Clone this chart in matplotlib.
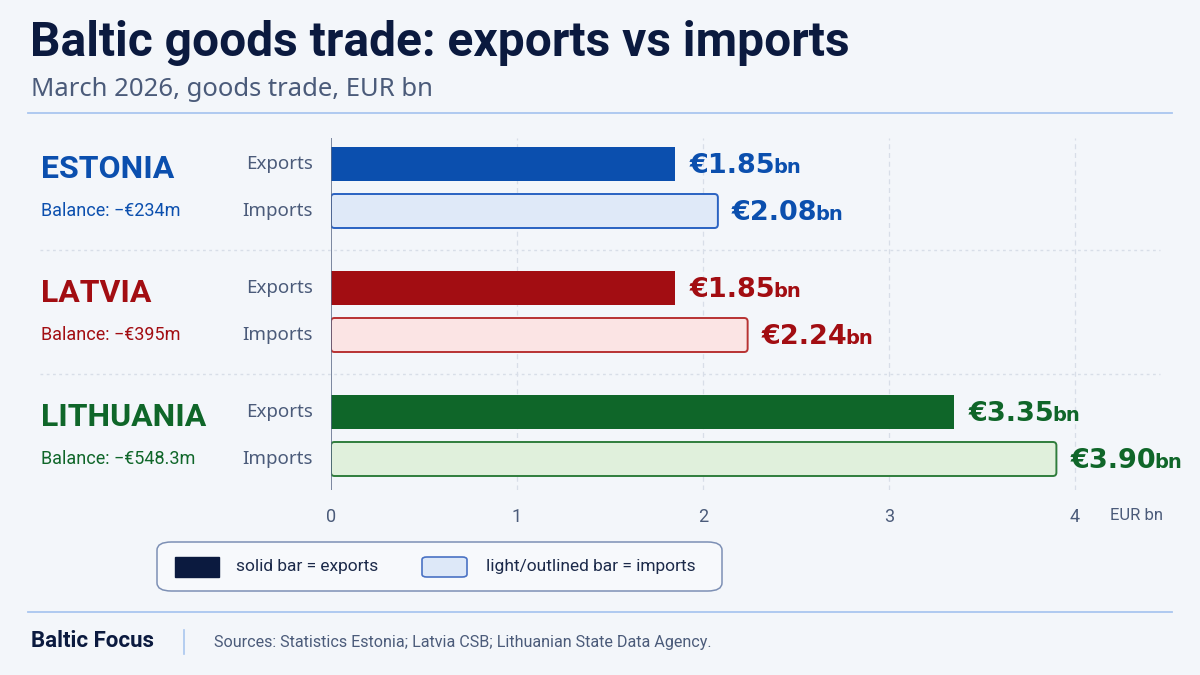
import matplotlib
matplotlib.use("Agg")
import matplotlib.pyplot as plt
from matplotlib import font_manager
from matplotlib.patches import FancyBboxPatch, Rectangle
from matplotlib.lines import Line2D

# ---------------- data ----------------
countries = ["ESTONIA", "LATVIA", "LITHUANIA"]
exports = [1.85, 1.85, 3.35]          # EUR bn
imports = [2.08, 2.24, 3.90]          # EUR bn
balances = ["Balance: \u2212\u20ac234m", "Balance: \u2212\u20ac395m", "Balance: \u2212\u20ac548.3m"]
row_labels = ["Exports", "Imports"]
x_ticks = [0, 1, 2, 3, 4]
x_unit_label = "EUR bn"
title = "Baltic goods trade: exports vs imports"
subtitle = "March 2026, goods trade, EUR bn"
legend_labels = ["solid bar = exports", "light/outlined bar = imports"]
brand = "Baltic Focus"
sources = "Sources: Statistics Estonia; Latvia CSB; Lithuanian State Data Agency."

# ---------------- styles ----------------
dark_col = ["#0b4fae", "#a20d12", "#0f6629"]
light_fill = ["#dfe9f8", "#fbe4e4", "#e0f0dc"]
light_edge = ["#2a62c2", "#b83232", "#2f7d3c"]
navy = "#0b1a3f"
grey = "#4b5b7a"
bg = "#f3f6fa"
rule = "#a9c6ef"

names = {f.name for f in font_manager.fontManager.ttflist}
def pick(*cands):
    for c in cands:
        if c in names:
            return c
    return "DejaVu Sans"
narrow = pick("Liberation Sans Narrow", "Roboto", "Noto Sans")
regular = pick("Noto Sans", "Open Sans", "DejaVu Sans")
boldfont = pick("Roboto", "Open Sans", "DejaVu Sans")
valfont = "DejaVu Sans"

W, H = 1200, 675
fig = plt.figure(figsize=(W / 100, H / 100), dpi=100)
fig.patch.set_facecolor(bg)

def fx(px):
    return px / W
def fy(py):
    return 1 - py / H

# axes geometry (pixels)
x0_px, x_end_px, px_per_unit = 331, 1160, 186
top_px, bot_px = 138, 490
group_px = 124
g0_center = 187.5
ax = fig.add_axes([fx(x0_px), fy(bot_px), fx(x_end_px - x0_px), (bot_px - top_px) / H])
ax.set_facecolor("none")
ax.set_xlim(0, (x_end_px - x0_px) / px_per_unit)
ax.set_ylim((bot_px - g0_center) / group_px, (top_px - g0_center) / group_px)
for s in ax.spines.values():
    s.set_visible(False)

def dx(px):
    return (px - x0_px) / px_per_unit

off = 23.5 / group_px
bh = 34 / group_px

# grid
for t in x_ticks[1:]:
    ax.axvline(t, color="#d8dee8", lw=0.9, ls=(0, (4, 3)), zorder=0)
ax.axvline(0, color="#5a6886", lw=1.1, zorder=3)

for i, c in enumerate(countries):
    ye = i - off
    yi = i + off
    ax.barh(ye, exports[i], height=bh, color=dark_col[i], zorder=2)
    bars = ax.barh(yi, imports[i], height=bh, color=light_fill[i], edgecolor=light_edge[i],
                   linewidth=1.4, zorder=2)
    # replace import bar by a rounded version of the same rectangle
    for p in bars.patches:
        p.set_visible(False)
        ax.add_patch(FancyBboxPatch((p.get_x(), p.get_y()), p.get_width(), p.get_height(),
                                    boxstyle=f"round,pad=0,rounding_size={3.5 / px_per_unit}",
                                    mutation_aspect=px_per_unit / group_px,
                                    facecolor=light_fill[i], edgecolor=light_edge[i],
                                    linewidth=1.4, zorder=2))
    for val, yy in ((exports[i], ye), (imports[i], yi)):
        t1 = ax.text(val + 14 / px_per_unit, yy + 0.02, f"\u20ac{val:.2f}", color=dark_col[i],
                     fontsize=19.5, fontweight="bold", family=valfont, va="center", ha="left")
        ax.annotate("bn", xy=(1, 0), xycoords=t1, xytext=(-1.2, 1.5), textcoords="offset points",
                    color=dark_col[i], fontsize=14, fontweight="bold", family=valfont,
                    va="bottom", ha="left")
    # row labels
    ax.text(dx(313), ye, row_labels[0], ha="right", va="center", fontsize=13.5,
            color=grey, family=regular, clip_on=False)
    ax.text(dx(313), yi, row_labels[1], ha="right", va="center", fontsize=13.5,
            color=grey, family=regular, clip_on=False)
    # country + balance
    ax.text(dx(41), ye + 0.04, c, ha="left", va="center", fontsize=23, fontweight="bold",
            color=dark_col[i], family=boldfont, clip_on=False)
    ax.text(dx(41), yi, balances[i], ha="left", va="center", fontsize=13,
            color=dark_col[i], family=narrow, clip_on=False)

# separators between groups
for k in range(len(countries) - 1):
    ysep = k + 0.5
    ax.plot([dx(40), dx(1160)], [ysep, ysep], color="#d8dee8", lw=1.0, ls=(0, (2, 2.5)),
            clip_on=False, zorder=0)

ax.set_yticks([])
ax.set_xticks(x_ticks)
ax.set_xticklabels([str(t) for t in x_ticks], family=narrow, fontsize=13, color=grey)
ax.tick_params(axis="x", length=0, pad=13)
fig.text(fx(1110), fy(515), x_unit_label, family=narrow, fontsize=12, color=grey,
         ha="left", va="center")

# title block
fig.text(fx(30), fy(43), title, family=narrow, fontsize=34.5, fontweight="bold", color=navy,
         ha="left", va="center")
fig.text(fx(31), fy(89), subtitle, family=regular, fontsize=18.5, color=grey,
         ha="left", va="center")
fig.add_artist(Line2D([fx(28), fx(1172)], [fy(113), fy(113)], color=rule, lw=1.3))
fig.add_artist(Line2D([fx(28), fx(1172)], [fy(612), fy(612)], color=rule, lw=1.3))

# legend box
fig.add_artist(FancyBboxPatch((fx(157), fy(591)), fx(722 - 157), (591 - 542) / H,
                              boxstyle="round,pad=0,rounding_size=0.012",
                              facecolor="#f7f9fc", edgecolor="#7d90b5", lw=1.1,
                              transform=fig.transFigure))
fig.add_artist(Rectangle((fx(175), fy(577)), fx(44), 20 / H, facecolor=navy,
                         edgecolor=navy, transform=fig.transFigure))
fig.add_artist(FancyBboxPatch((fx(422), fy(577)), fx(45), 20 / H,
                              boxstyle="round,pad=0,rounding_size=0.004",
                              facecolor="#dde8f8", edgecolor="#4a72c4", lw=1.2,
                              transform=fig.transFigure))
fig.text(fx(236), fy(567), legend_labels[0], family=narrow, fontsize=12.5, color="#1c2a4a",
         ha="left", va="center")
fig.text(fx(486), fy(567), legend_labels[1], family=narrow, fontsize=12.5, color="#1c2a4a",
         ha="left", va="center")

# footer
fig.text(fx(31), fy(641), brand, family=narrow, fontsize=16, fontweight="bold", color=navy,
         ha="left", va="center")
fig.add_artist(Line2D([fx(184), fx(184)], [fy(630), fy(654)], color=rule, lw=1.2))
fig.text(fx(214), fy(642), sources, family=narrow, fontsize=11.6, color=grey,
         ha="left", va="center")

fig.savefig("out.png", dpi=100, facecolor=bg)
